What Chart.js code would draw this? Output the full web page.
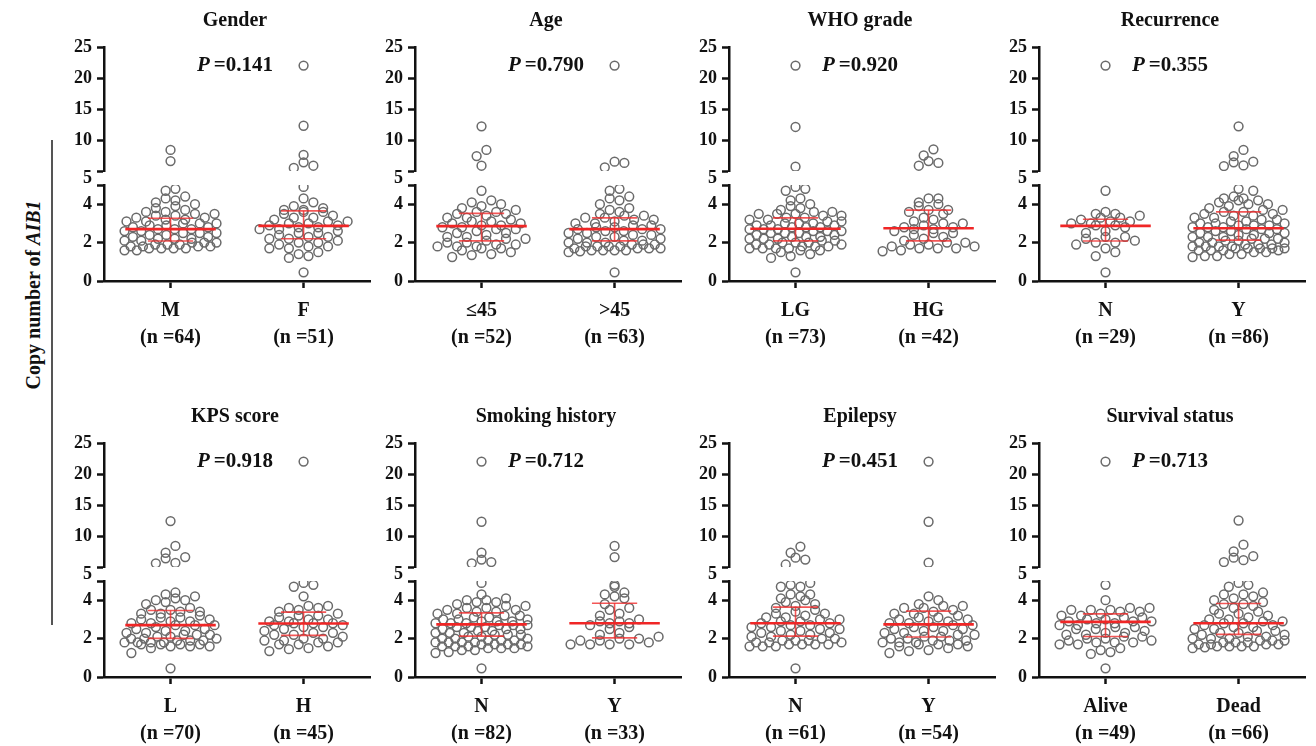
<!DOCTYPE html>
<html>
<head>
<meta charset="utf-8">
<script src="https://cdn.jsdelivr.net/npm/chart.js@4.4.0/dist/chart.umd.min.js"></script>
<style>
body{margin:0;background:#fff;width:1316px;height:746px;overflow:hidden;position:relative;font-family:"Liberation Serif",serif}
canvas{position:absolute}
#yline{position:absolute;left:51px;top:140px;width:2px;height:485px;background:#555}
#ytitle{position:absolute;left:33px;top:295px;transform:translate(-50%,-50%) rotate(-90deg);font-weight:bold;font-size:20px;white-space:nowrap;color:#111}
</style>
</head>
<body>
<div id="yline"></div>
<div id="ytitle">Copy number of <i>AIB1</i></div>
<script>
// ---- panel texts -------------------------------------------------------
const titles = ['Gender','Age','WHO grade','Recurrence','KPS score','Smoking history','Epilepsy','Survival status']
const groupLabels = [['M','F'],['≤45','>45'],['LG','HG'],['N','Y'],['L','H'],['N','Y'],['N','Y'],['Alive','Dead']]
const groupN = [[64,51],[52,63],[73,42],[29,86],[70,45],[82,33],[61,54],[49,66]]
const pValues = ['0.141','0.790','0.920','0.355','0.918','0.712','0.451','0.713']

// median and interquartile range (red bars)
const medians = [[2.70,2.87],[2.86,2.70],[2.72,2.75],[2.87,2.75],[2.70,2.79],[2.74,2.80],[2.80,2.74],[2.87,2.80]]
const q1 = [[2.08,2.20],[2.09,2.09],[2.09,2.09],[2.08,2.13],[2.01,2.17],[2.13,2.04],[2.13,2.08],[2.11,2.22]]
const q3 = [[3.27,3.65],[3.52,3.29],[3.29,3.69],[3.22,3.60],[3.46,3.38],[3.34,3.84],[3.64,3.43],[3.29,3.83]]

// ---- copy numbers, one list per group ------------------------------------
const genderM = [8.4,6.6,
 4.8,4.7,4.4,4.3,4.2,4.1,4.0,3.9,3.8,3.7,3.6,3.6,3.5,3.5,3.4,3.4,3.3,3.3,3.2,3.2,
 3.1,3.1,3.0,3.0,3.0,2.9,2.9,2.8,2.8,2.7,2.7,2.7,2.6,2.6,2.5,2.5,2.5,2.4,2.4,2.3,
 2.3,2.2,2.2,2.2,2.1,2.1,2.0,2.0,2.0,1.9,1.9,1.9,1.8,1.8,1.8,1.8,1.7,1.7,1.7,1.7,1.6,1.6]
const genderF = [22,12.3,7.6,6.4,5.85,5.5,
 4.9,4.3,4.1,3.9,3.8,3.7,3.7,3.6,3.6,3.5,3.4,3.3,3.3,3.2,3.1,3.1,3.0,3.0,2.9,2.9,
 2.8,2.8,2.7,2.7,2.6,2.5,2.5,2.4,2.3,2.3,2.2,2.2,2.1,2.0,2.0,1.9,1.8,1.8,1.7,1.7,
 1.5,1.4,1.3,1.2,0.45]
const ageLow = [12.2,8.4,7.4,5.85,
 4.7,4.2,4.1,4.0,3.9,3.8,3.7,3.6,3.6,3.5,3.5,3.4,3.3,3.3,3.2,3.1,3.1,3.0,3.0,2.9,
 2.9,2.8,2.8,2.7,2.7,2.6,2.5,2.5,2.4,2.3,2.3,2.2,2.2,2.1,2.0,2.0,1.9,1.9,1.8,1.8,
 1.8,1.7,1.7,1.6,1.5,1.4,1.35,1.25]
const ageHigh = [22,6.5,6.3,5.6,
 4.8,4.7,4.4,4.3,4.2,4.0,3.8,3.7,3.6,3.5,3.4,3.4,3.3,3.3,3.2,3.2,3.1,3.0,3.0,2.9,
 2.9,2.8,2.8,2.7,2.7,2.7,2.6,2.6,2.5,2.5,2.4,2.4,2.3,2.3,2.2,2.2,2.1,2.1,2.0,2.0,
 2.0,1.9,1.9,1.9,1.8,1.8,1.8,1.8,1.7,1.7,1.7,1.7,1.6,1.6,1.6,1.6,1.55,1.5,0.45]
const whoLG = [22,12.1,5.7,
 4.9,4.8,4.7,4.3,4.2,4.0,3.9,3.8,3.7,3.6,3.6,3.5,3.5,3.5,3.4,3.4,3.3,3.3,3.2,3.2,
 3.1,3.1,3.0,3.0,3.0,2.9,2.9,2.9,2.8,2.8,2.8,2.7,2.7,2.7,2.6,2.6,2.6,2.5,2.5,2.5,
 2.4,2.4,2.3,2.3,2.3,2.2,2.2,2.2,2.1,2.1,2.0,2.0,2.0,1.9,1.9,1.9,1.8,1.8,1.8,1.7,
 1.7,1.7,1.7,1.6,1.6,1.5,1.4,1.3,1.2,0.45]
const whoHG = [8.5,7.5,6.6,6.3,5.85,
 4.3,4.3,4.1,4.0,3.9,3.7,3.7,3.6,3.5,3.3,3.2,3.1,3.0,3.0,2.9,2.8,2.8,2.7,2.7,2.6,
 2.5,2.5,2.4,2.3,2.2,2.1,2.0,2.0,1.9,1.9,1.8,1.8,1.7,1.7,1.7,1.6,1.55]
const recN = [22,
 4.7,3.6,3.5,3.5,3.4,3.3,3.3,3.2,3.1,3.1,3.0,3.0,2.9,2.9,2.8,2.6,2.5,2.3,2.3,2.2,
 2.1,2.0,2.0,1.9,1.7,1.5,1.3,0.45]
const recY = [12.2,8.4,7.4,6.5,6.4,5.9,5.8,
 4.8,4.7,4.4,4.3,4.3,4.2,4.2,4.1,4.0,4.0,3.9,3.8,3.7,3.7,3.6,3.6,3.5,3.5,3.4,3.4,
 3.3,3.3,3.2,3.2,3.1,3.1,3.0,3.0,3.0,2.9,2.9,2.9,2.8,2.8,2.8,2.7,2.7,2.7,2.6,2.6,
 2.5,2.5,2.5,2.4,2.4,2.3,2.3,2.3,2.2,2.2,2.2,2.1,2.1,2.0,2.0,2.0,1.9,1.9,1.9,1.8,
 1.8,1.8,1.8,1.7,1.7,1.7,1.7,1.7,1.6,1.6,1.6,1.6,1.5,1.5,1.4,1.4,1.3,1.3,1.25]
const kpsL = [12.4,8.4,7.3,6.6,6.4,5.65,5.6,
 4.4,4.3,4.2,4.1,4.0,4.0,3.9,3.8,3.6,3.5,3.5,3.4,3.4,3.3,3.3,3.2,3.1,3.1,3.0,3.0,
 2.9,2.9,2.8,2.8,2.7,2.7,2.7,2.6,2.5,2.5,2.4,2.4,2.3,2.3,2.2,2.2,2.2,2.1,2.1,2.0,
 2.0,2.0,1.9,1.9,1.9,1.8,1.8,1.8,1.8,1.7,1.7,1.7,1.7,1.6,1.6,1.6,1.5,1.25,0.45]
const kpsH = [22,
 4.9,4.8,4.7,4.2,3.7,3.7,3.6,3.6,3.5,3.4,3.3,3.2,3.2,3.1,3.0,3.0,2.9,2.9,2.8,2.8,
 2.8,2.7,2.7,2.6,2.6,2.5,2.4,2.3,2.3,2.2,2.2,2.1,2.0,2.0,1.9,1.9,1.8,1.8,1.7,1.7,
 1.6,1.5,1.45,1.35]
const smokeN = [22,12.3,7.3,6.2,5.8,5.6,
 4.9,4.3,4.1,4.0,4.0,3.9,3.9,3.8,3.7,3.7,3.6,3.6,3.5,3.5,3.4,3.4,3.3,3.3,3.2,3.2,
 3.1,3.1,3.0,3.0,3.0,2.9,2.9,2.9,2.8,2.8,2.8,2.7,2.7,2.7,2.6,2.6,2.6,2.5,2.5,2.5,
 2.4,2.4,2.3,2.3,2.3,2.2,2.2,2.2,2.1,2.1,2.0,2.0,2.0,1.9,1.9,1.9,1.8,1.8,1.8,1.8,
 1.7,1.7,1.7,1.7,1.6,1.6,1.6,1.6,1.5,1.5,1.5,1.4,1.4,1.3,1.25,0.45]
const smokeY = [8.4,6.6,
 4.8,4.7,4.4,4.3,4.2,4.1,3.8,3.6,3.5,3.3,3.2,3.0,2.9,2.9,2.8,2.8,2.7,2.6,2.5,2.3,
 2.2,2.1,2.0,2.0,1.9,1.9,1.8,1.7,1.7,1.7,1.7]
const epiN = [8.3,7.3,6.5,6.2,5.4,
 4.9,4.8,4.7,4.7,4.3,4.3,4.2,4.1,4.0,3.9,3.8,3.7,3.6,3.5,3.4,3.3,3.3,3.2,3.1,3.1,
 3.0,3.0,2.9,2.9,2.8,2.8,2.7,2.7,2.6,2.6,2.5,2.5,2.4,2.4,2.3,2.3,2.2,2.2,2.1,2.1,
 2.0,2.0,1.9,1.9,1.9,1.8,1.8,1.8,1.7,1.7,1.7,1.7,1.6,1.6,1.6,0.45]
const epiY = [22,12.3,5.7,
 4.2,4.0,3.8,3.7,3.7,3.6,3.6,3.5,3.4,3.3,3.3,3.2,3.1,3.1,3.0,3.0,2.9,2.9,2.8,2.8,
 2.7,2.7,2.6,2.6,2.5,2.5,2.4,2.4,2.3,2.3,2.2,2.2,2.1,2.1,2.0,2.0,1.9,1.9,1.9,1.8,
 1.8,1.8,1.7,1.7,1.7,1.6,1.6,1.5,1.4,1.35,1.25]
const alive = [22,
 4.8,4.0,3.6,3.6,3.5,3.5,3.5,3.4,3.4,3.3,3.2,3.2,3.1,3.1,3.0,3.0,2.9,2.9,2.9,2.8,
 2.8,2.7,2.7,2.6,2.6,2.5,2.5,2.4,2.3,2.3,2.2,2.2,2.1,2.1,2.0,2.0,1.9,1.9,1.8,1.8,
 1.8,1.7,1.7,1.5,1.4,1.3,1.2,0.45]
const dead = [12.5,8.6,7.5,6.75,6.5,6.1,5.8,
 4.9,4.8,4.7,4.4,4.3,4.3,4.2,4.1,4.0,3.9,3.8,3.8,3.7,3.6,3.5,3.4,3.3,3.3,3.2,3.1,
 3.0,3.0,2.9,2.9,2.8,2.8,2.7,2.7,2.6,2.6,2.5,2.5,2.4,2.4,2.3,2.3,2.2,2.2,2.1,2.1,
 2.0,2.0,2.0,1.9,1.9,1.9,1.8,1.8,1.8,1.7,1.7,1.7,1.7,1.6,1.6,1.6,1.6,1.55,1.5]

const groupValues = [[genderM,genderF],[ageLow,ageHigh],[whoLG,whoHG],[recN,recY],
                     [kpsL,kpsH],[smokeN,smokeY],[epiN,epiY],[alive,dead]]

// ---- layout -------------------------------------------------------------
const axisX = [104, 415, 729, 1039]
const rowTop = [0, 396]
const pxPerX = 136       // chart area is 272px for 2 x-units
const rowPx = 9          // dots closer than this in height share a row
const dotStep = 10       // horizontal step inside a row
const maxHalf = 47       // rows never get wider than this on each side

Chart.defaults.font.family = '"Liberation Serif", serif'
Chart.defaults.color = '#111'

// rough pixel height of a value on the broken axis, only used to spread the dots
function valuePx(v){
    return v <= 5 ? v * 19.25 : 110 + (v - 5) * 6.2
}

// scatter-dot layout: group dots into rows, spread each row around the centre
function spread(vals){
    const order = vals.map((v,i)=>i).sort((a,b)=>vals[a]-vals[b])
    const xs = new Array(vals.length)
    let row = []
    const flush = ()=>{
        const n = row.length
        const step = n > 1 ? Math.min(dotStep, 2*maxHalf/(n-1)) : 0
        // lower and upper half of the row take turns, so the row zigzags a bit
        const half = Math.ceil(n / 2)
        for (let s = 0; s < n; s++){
            const idx = s % 2 === 0 ? row[s / 2] : row[half + (s - 1) / 2]
            xs[idx] = (s - (n-1)/2) * step
        }
        row = []
    }
    order.forEach(i=>{
        if (row.length && valuePx(vals[i]) - valuePx(vals[row[0]]) >= rowPx) flush()
        row.push(i)
    })
    flush()
    return xs
}

function redLine(pts, width, color){
    return {data: pts, yAxisID: 'yLo', showLine: true, pointRadius: 0,
            borderColor: color, borderWidth: width, order: 0}
}

function panelText(k){
    return {
        id: 'panelText',
        afterDraw(chart){
            const ctx = chart.ctx
            const cx = chart.chartArea.left + 131
            ctx.save()
            ctx.fillStyle = '#111'
            ctx.textBaseline = 'middle'
            ctx.textAlign = 'center'
            ctx.font = 'bold 20px "Liberation Serif"'
            ctx.fillText(titles[k], cx, 21)

            const y = chart.scales.yHi.getPixelForValue(22)
            const rest = '=' + pValues[k]
            ctx.font = 'italic bold 21px "Liberation Serif"'
            const wP = ctx.measureText('P').width
            ctx.font = 'bold 21px "Liberation Serif"'
            const wR = ctx.measureText(rest).width
            const x0 = cx - (wP + 4 + wR) / 2
            ctx.textAlign = 'left'
            ctx.font = 'italic bold 21px "Liberation Serif"'
            ctx.fillText('P', x0, y)
            ctx.font = 'bold 21px "Liberation Serif"'
            ctx.fillText(rest, x0 + wP + 4, y)
            ctx.restore()
        }
    }
}

const axisGrid = {drawOnChartArea: false, drawTicks: true, tickLength: 7, tickWidth: 2.5, color: '#111'}
const axisBorder = {width: 2.5, color: '#111'}
const tickFont = {size: 18, weight: 'bold'}

function makePanel(k){
    const cv = document.createElement('canvas')
    cv.width = 322
    cv.height = 360
    cv.style.left = (axisX[k % 4] - 50) + 'px'
    cv.style.top = rowTop[Math.floor(k / 4)] + 'px'
    document.body.appendChild(cv)

    const datasets = []
    groupValues[k].forEach((vals, g)=>{
        const xs = spread(vals)
        const lo = [], hi = []
        vals.forEach((v,i)=>{
            const pt = {x: g + xs[i] / pxPerX, y: v}
            if (v > 5) hi.push(pt)
            else lo.push(pt)
        })
        const dotStyle = {pointRadius: 4.4, pointBorderWidth: 1.5, pointBorderColor: '#6a6a6a',
                          pointBackgroundColor: 'rgba(255,255,255,0)', showLine: false, order: 1}
        datasets.push(Object.assign({data: lo, yAxisID: 'yLo'}, dotStyle))
        datasets.push(Object.assign({data: hi, yAxisID: 'yHi'}, dotStyle))

        const m = medians[k][g], a = q1[k][g], b = q3[k][g]
        datasets.push(redLine([{x: g-0.34, y: m}, {x: g+0.34, y: m}], 2.6, '#f02626'))
        datasets.push(redLine([{x: g-0.17, y: a}, {x: g+0.17, y: a}], 1.6, 'rgba(240,45,45,0.8)'))
        datasets.push(redLine([{x: g-0.17, y: b}, {x: g+0.17, y: b}], 1.6, 'rgba(240,45,45,0.8)'))
        datasets.push(redLine([{x: g, y: a}, {x: g, y: b}], 1.6, 'rgba(240,45,45,0.8)'))
    })

    new Chart(cv, {
        type: 'scatter',
        data: {datasets},
        options: {
            responsive: false,
            animation: false,
            layout: {padding: {top: 47, left: 0, right: 0, bottom: 0}},
            plugins: {legend: {display: false}, tooltip: {enabled: false}},
            scales: {
                x: {
                    type: 'linear', min: -0.5, max: 1.5,
                    afterBuildTicks: s => { s.ticks = [{value: 0}, {value: 1}] },
                    afterFit: s => { s.height = 79 },
                    ticks: {
                        callback: (v, i) => [groupLabels[k][i], '(n =' + groupN[k][i] + ')'],
                        font: {size: 20, weight: 'bold', lineHeight: 1.35},
                        padding: 9, maxRotation: 0, autoSkip: false
                    },
                    grid: axisGrid, border: axisBorder
                },
                yLo: {
                    type: 'linear', position: 'left', stack: 'v', stackWeight: 96,
                    min: 0, max: 5,
                    afterBuildTicks: s => { s.ticks = [0,2,4,5].map(v => ({value: v})) },
                    afterFit: s => { s.width = 50 },
                    ticks: {callback: v => v === 5 ? '' : String(v), font: tickFont, padding: 5, autoSkip: false},
                    grid: axisGrid, border: axisBorder
                },
                yGap: {
                    type: 'linear', position: 'left', stack: 'v', stackWeight: 14,
                    min: 0, max: 1,
                    afterBuildTicks: s => { s.ticks = [{value: 0.5}] },
                    afterFit: s => { s.width = 50 },
                    ticks: {callback: () => '5', font: tickFont, padding: 5, autoSkip: false},
                    grid: {drawOnChartArea: false, drawTicks: true, tickLength: 7, color: 'rgba(0,0,0,0)'},
                    border: {display: false}
                },
                yHi: {
                    type: 'linear', position: 'left', stack: 'v', stackWeight: 124,
                    min: 5, max: 25,
                    afterBuildTicks: s => { s.ticks = [5,10,15,20,25].map(v => ({value: v})) },
                    afterFit: s => { s.width = 50 },
                    ticks: {callback: v => v === 5 ? '' : String(v), font: tickFont, padding: 5, autoSkip: false},
                    grid: axisGrid, border: axisBorder
                }
            }
        },
        plugins: [panelText(k)]
    })
}

for (let k = 0; k < 8; k++) makePanel(k)
</script>
</body>
</html>
